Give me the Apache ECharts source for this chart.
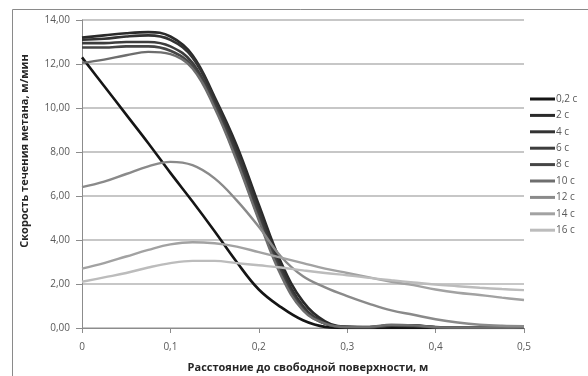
<!DOCTYPE html>
<html>
<head>
<meta charset="utf-8">
<script src="https://cdn.jsdelivr.net/npm/echarts@6/dist/echarts.min.js"></script>
<style>
  html, body { margin: 0; padding: 0; background: #ffffff; }
  #chart { width: 588px; height: 376px; }
</style>
</head>
<body>
<div id="chart"></div>
<script>
// Distance from the free surface, m
const distance = [0, 0.025, 0.05, 0.075, 0.1, 0.125, 0.15, 0.175, 0.2, 0.225, 0.25,
                  0.275, 0.3, 0.325, 0.35, 0.375, 0.4, 0.425, 0.45, 0.475, 0.5];

// Methane flow velocity, m/min, for each moment in time
const t0_2 = [12.3, 11.0, 9.7, 8.4, 7.05, 5.75, 4.4, 3.0, 1.75, 0.95, 0.35,
              0.05, 0, 0, 0, 0, 0, 0, 0, 0, 0];
const t2  = [13.2, 13.3, 13.4, 13.45, 13.25, 12.4, 10.5, 8.3, 5.6, 3.0, 1.2,
             0.3, 0.05, 0.03, 0.12, 0.12, 0.04, 0.02, 0.02, 0.03, 0.04];
const t4  = [13.1, 13.15, 13.25, 13.3, 13.1, 12.3, 10.4, 8.1, 5.4, 2.8, 1.0,
             0.22, 0.04, 0.03, 0.1, 0.1, 0.03, 0.02, 0.02, 0.03, 0.04];
const t6  = [12.95, 12.95, 13.0, 13.0, 12.8, 12.05, 10.2, 7.9, 5.2, 2.6, 0.9,
             0.2, 0.03, 0.03, 0.1, 0.08, 0.03, 0.02, 0.02, 0.02, 0.03];
const t8  = [12.75, 12.75, 12.8, 12.8, 12.6, 11.9, 10.1, 7.7, 5.0, 2.5, 0.85,
             0.2, 0.05, 0.04, 0.12, 0.1, 0.03, 0.02, 0.02, 0.02, 0.03];
const t10 = [12.05, 12.2, 12.4, 12.55, 12.45, 11.8, 10.0, 7.6, 4.9, 2.4, 0.8,
             0.2, 0.05, 0.05, 0.15, 0.12, 0.04, 0.02, 0.02, 0.02, 0.03];
const t12 = [6.4, 6.65, 7.0, 7.35, 7.55, 7.4, 6.8, 5.8, 4.6, 3.25, 2.35,
             1.85, 1.45, 1.1, 0.8, 0.6, 0.4, 0.25, 0.15, 0.1, 0.08];
const t14 = [2.7, 2.95, 3.25, 3.55, 3.8, 3.9, 3.85, 3.7, 3.45, 3.2, 2.95,
             2.7, 2.5, 2.3, 2.1, 1.95, 1.75, 1.6, 1.5, 1.38, 1.27];
const t16 = [2.1, 2.3, 2.5, 2.75, 2.95, 3.05, 3.05, 2.95, 2.85, 2.75, 2.62,
             2.5, 2.4, 2.28, 2.17, 2.07, 1.97, 1.9, 1.83, 1.77, 1.72];

const seriesNames = ['0,2 c', '2 c', '4 c', '6 c', '8 c', '10 c', '12 c', '14 c', '16 c'];
const seriesValues = [t0_2, t2, t4, t6, t8, t10, t12, t14, t16];
const seriesColors = ['#151515', '#2a2a2a', '#333333', '#3d3d3d', '#464646',
                      '#6e6e6e', '#8a8a8a', '#a2a2a2', '#bcbcbc'];

const xTicks = [0, 0.1, 0.2, 0.3, 0.4, 0.5];
const yTicks = [0, 2, 4, 6, 8, 10, 12, 14];

const fontFamily = '"Open Sans", "Noto Sans", "DejaVu Sans", sans-serif';

const chart = echarts.init(document.getElementById('chart'), null, { renderer: 'canvas' });

const series = seriesNames.map((name, i) => ({
  name: name,
  type: 'line',
  data: distance.map((d, k) => [d, seriesValues[i][k]]),
  smooth: 0.4,
  showSymbol: false,
  symbol: 'none',
  clip: true,
  lineStyle: { color: seriesColors[i], width: i < 5 ? 2.6 : 2.4 },
  itemStyle: { color: seriesColors[i] },
  emphasis: { disabled: true }
}));

chart.setOption({
  animation: false,
  backgroundColor: '#ffffff',
  grid: { left: 82, right: 64, top: 20, bottom: 48 },
  xAxis: {
    type: 'value',
    min: xTicks[0],
    max: xTicks[xTicks.length - 1],
    interval: 0.1,
    axisLine: { show: true, lineStyle: { color: '#8c8c8c', width: 1 } },
    axisTick: { show: true, inside: false, length: 5, lineStyle: { color: '#8c8c8c' } },
    splitLine: { show: false },
    axisLabel: {
      margin: 14,
      color: '#595959',
      fontSize: 10,
      fontFamily: fontFamily,
      formatter: v => (v === 0 ? '0' : v.toFixed(1).replace('.', ','))
    }
  },
  yAxis: {
    type: 'value',
    min: yTicks[0],
    max: yTicks[yTicks.length - 1],
    interval: 2,
    axisLine: { show: true, lineStyle: { color: '#8c8c8c', width: 1 } },
    axisTick: { show: true, inside: false, length: 6, lineStyle: { color: '#8c8c8c' } },
    splitLine: { show: true, lineStyle: { color: '#b4b4b4', width: 1.5 } },
    axisLabel: {
      margin: 12,
      color: '#595959',
      fontSize: 10,
      fontFamily: fontFamily,
      formatter: v => v.toFixed(2).replace('.', ',')
    }
  },
  legend: {
    orient: 'vertical',
    left: 525,
    top: 88,
    icon: 'rect',
    itemWidth: 25,
    itemHeight: 3,
    itemGap: 4.4,
    data: seriesNames,
    textStyle: { color: '#595959', fontSize: 10, fontFamily: fontFamily, lineHeight: 12, padding: [0, 0, 0, -4] },
    selectedMode: false
  },
  graphic: [
    {
      type: 'rect',
      silent: true,
      shape: { x: 12.5, y: 9.5, width: 600, height: 400 },
      style: { fill: 'none', stroke: '#8a8a8a', lineWidth: 1 },
      z: -1
    },
    {
      type: 'text',
      silent: true,
      x: 25,
      y: 151,
      rotation: Math.PI / 2,
      style: {
        text: 'Скорость течения метана, м/мин',
        fill: '#262626',
        font: 'bold 11px ' + fontFamily,
        align: 'center',
        verticalAlign: 'middle'
      }
    },
    {
      type: 'text',
      silent: true,
      x: 308,
      y: 368,
      style: {
        text: 'Расстояние до свободной поверхности, м',
        fill: '#262626',
        font: 'bold 11px ' + fontFamily,
        align: 'center',
        verticalAlign: 'middle'
      }
    }
  ],
  series: series
});
</script>
</body>
</html>
